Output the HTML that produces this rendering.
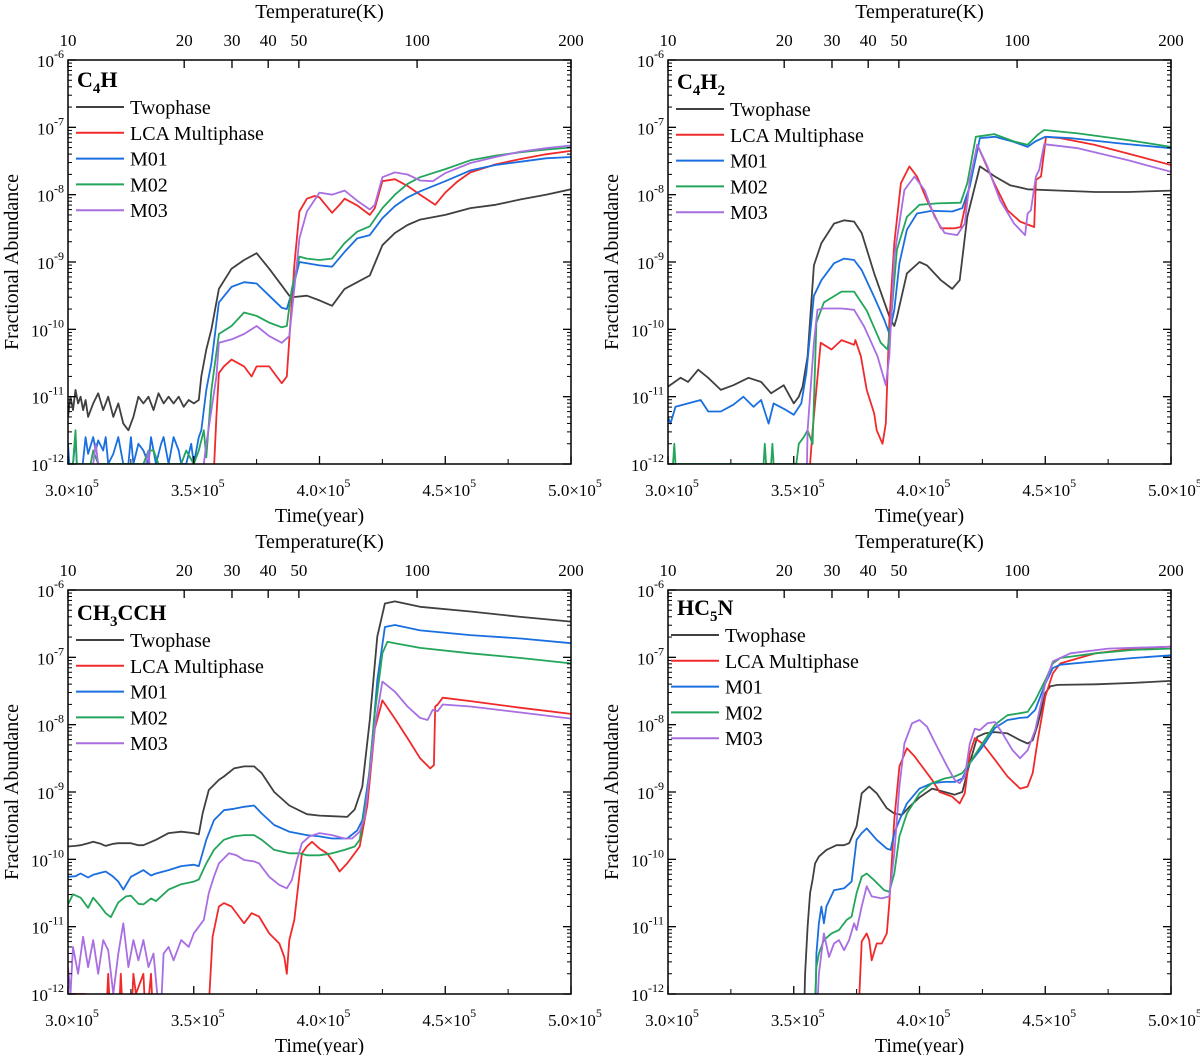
<!DOCTYPE html>
<html><head><meta charset="utf-8"><style>
html,body{margin:0;padding:0;background:#fff;}
svg{display:block;font-family:"Liberation Serif",serif;}
</style></head><body>
<svg id="fig" width="1200" height="1055" viewBox="0 0 1200 1055" xmlns="http://www.w3.org/2000/svg"></svg>
<script>
// ---- data: [time (1e5 yr), log10 abundance] ----
const c4h_twophase=[[3.0,-11.3],[3.01,-11.0],[3.02,-11.2],[3.03,-10.9],[3.04,-11.1],[3.05,-11.0],[3.06,-11.2],[3.07,-11.05],[3.08,-11.3],[3.1,-11.1],[3.12,-10.95],[3.14,-11.2],[3.16,-11.0],[3.18,-11.3],[3.2,-11.1],[3.22,-11.4],[3.24,-11.5],[3.26,-11.3],[3.28,-11.0],[3.3,-11.1],[3.32,-11.0],[3.34,-11.2],[3.36,-10.95],[3.38,-11.1],[3.4,-11.0],[3.42,-11.1],[3.44,-11.0],[3.46,-11.15],[3.48,-11.05],[3.5,-11.1],[3.52,-11.05],[3.53,-10.7],[3.55,-10.3],[3.57,-10.0],[3.6,-9.4],[3.65,-9.1],[3.7,-8.97],[3.75,-8.87],[3.8,-9.1],[3.85,-9.35],[3.88,-9.5],[3.9,-9.52],[3.95,-9.5],[4.0,-9.57],[4.05,-9.65],[4.1,-9.4],[4.15,-9.3],[4.2,-9.2],[4.25,-8.75],[4.3,-8.57],[4.35,-8.45],[4.4,-8.37],[4.5,-8.3],[4.6,-8.2],[4.7,-8.15],[4.8,-8.07],[4.9,-8.0],[5.0,-7.92]];
const c4h_lca=[[3.0,-12.5],[3.575,-12.5],[3.59,-11.3],[3.6,-10.65],[3.62,-10.55],[3.65,-10.45],[3.7,-10.55],[3.73,-10.7],[3.75,-10.55],[3.8,-10.55],[3.83,-10.7],[3.85,-10.8],[3.87,-10.7],[3.88,-10.15],[3.9,-9.05],[3.92,-8.25],[3.95,-8.06],[3.98,-8.02],[4.0,-8.04],[4.05,-8.27],[4.08,-8.15],[4.1,-8.06],[4.15,-8.16],[4.2,-8.3],[4.22,-8.2],[4.25,-7.8],[4.3,-7.77],[4.35,-7.87],[4.4,-8.0],[4.46,-8.15],[4.5,-7.97],[4.55,-7.8],[4.6,-7.67],[4.7,-7.55],[4.8,-7.47],[4.9,-7.4],[5.0,-7.35]];
const c4h_m01=[[3.0,-11.7],[3.005,-12],[3.02,-12],[3.03,-11.6],[3.035,-12],[3.05,-12.3],[3.07,-11.6],[3.08,-11.85],[3.1,-11.6],[3.11,-11.8],[3.12,-11.65],[3.14,-11.8],[3.15,-11.6],[3.16,-12],[3.18,-11.85],[3.2,-11.6],[3.22,-12],[3.24,-12],[3.25,-11.6],[3.26,-12],[3.28,-11.7],[3.3,-11.8],[3.32,-12],[3.33,-11.6],[3.35,-12],[3.37,-11.7],[3.38,-11.6],[3.4,-12],[3.42,-11.6],[3.44,-11.8],[3.45,-12],[3.47,-12],[3.49,-11.7],[3.5,-12],[3.52,-11.6],[3.53,-11.5],[3.55,-10.9],[3.57,-10.5],[3.6,-9.6],[3.65,-9.37],[3.7,-9.3],[3.75,-9.32],[3.8,-9.5],[3.85,-9.68],[3.87,-9.7],[3.89,-9.45],[3.92,-9.0],[3.95,-9.02],[4.0,-9.05],[4.05,-9.07],[4.1,-8.85],[4.15,-8.65],[4.2,-8.6],[4.25,-8.35],[4.3,-8.17],[4.35,-8.04],[4.4,-7.95],[4.5,-7.8],[4.6,-7.64],[4.7,-7.56],[4.8,-7.51],[4.9,-7.46],[5.0,-7.44]];
const c4h_m02=[[3.0,-12],[3.02,-12],[3.03,-11.5],[3.035,-12],[3.09,-12],[3.1,-11.8],[3.12,-12],[3.3,-12],[3.32,-11.8],[3.34,-11.8],[3.36,-12],[3.45,-12],[3.47,-11.8],[3.5,-12],[3.52,-11.8],[3.54,-11.5],[3.55,-11.9],[3.57,-10.9],[3.6,-10.07],[3.65,-9.95],[3.7,-9.75],[3.75,-9.8],[3.8,-9.9],[3.85,-9.97],[3.87,-9.95],[3.89,-9.4],[3.92,-8.92],[3.95,-8.95],[4.0,-8.97],[4.05,-8.95],[4.1,-8.72],[4.15,-8.55],[4.2,-8.47],[4.25,-8.2],[4.3,-8.0],[4.35,-7.84],[4.4,-7.74],[4.5,-7.62],[4.6,-7.49],[4.7,-7.42],[4.8,-7.37],[4.9,-7.33],[5.0,-7.3]];
const c4h_m03=[[3.0,-12.3],[3.09,-12.3],[3.1,-12],[3.11,-11.7],[3.12,-12],[3.13,-12.3],[3.3,-12.3],[3.31,-12],[3.32,-11.8],[3.33,-12.3],[3.53,-12.3],[3.54,-12],[3.55,-11.7],[3.57,-11.2],[3.59,-10.7],[3.6,-10.2],[3.65,-10.15],[3.7,-10.07],[3.75,-9.95],[3.8,-10.1],[3.85,-10.2],[3.88,-10.1],[3.9,-9.4],[3.92,-8.65],[3.95,-8.25],[4.0,-7.97],[4.05,-8.0],[4.1,-7.94],[4.15,-8.09],[4.2,-8.22],[4.22,-8.15],[4.25,-7.74],[4.3,-7.67],[4.35,-7.7],[4.4,-7.79],[4.45,-7.8],[4.5,-7.68],[4.6,-7.53],[4.7,-7.44],[4.8,-7.36],[4.9,-7.31],[5.0,-7.27]];

const c4h2_twophase=[[3.0,-10.85],[3.05,-10.72],[3.08,-10.78],[3.12,-10.6],[3.16,-10.72],[3.21,-10.9],[3.26,-10.83],[3.32,-10.72],[3.37,-10.78],[3.41,-10.95],[3.46,-10.83],[3.5,-11.1],[3.52,-11.0],[3.535,-10.85],[3.555,-10.4],[3.58,-9.05],[3.61,-8.72],[3.66,-8.43],[3.7,-8.38],[3.74,-8.4],[3.77,-8.57],[3.82,-9.17],[3.885,-9.86],[3.9,-9.95],[3.91,-9.82],[3.95,-9.17],[4.0,-9.0],[4.03,-9.05],[4.085,-9.27],[4.13,-9.4],[4.16,-9.27],[4.19,-8.33],[4.24,-7.58],[4.3,-7.73],[4.36,-7.86],[4.43,-7.92],[4.56,-7.94],[4.7,-7.96],[4.83,-7.96],[5.0,-7.94]];
const c4h2_lca=[[3.0,-12.5],[3.555,-12.5],[3.575,-11.5],[3.607,-10.2],[3.65,-10.3],[3.69,-10.16],[3.74,-10.23],[3.745,-10.16],[3.767,-10.4],[3.79,-10.9],[3.82,-11.25],[3.83,-11.5],[3.853,-11.7],[3.866,-11.4],[3.88,-9.9],[3.9,-8.72],[3.926,-7.83],[3.96,-7.58],[3.99,-7.73],[4.03,-8.08],[4.085,-8.5],[4.14,-8.5],[4.164,-8.48],[4.19,-8.03],[4.23,-7.26],[4.297,-7.83],[4.35,-8.23],[4.4,-8.4],[4.456,-8.48],[4.463,-7.78],[4.483,-7.73],[4.503,-7.14],[4.56,-7.16],[4.695,-7.26],[4.83,-7.39],[5.0,-7.56]];
const c4h2_m01=[[3.0,-11.3],[3.01,-11.4],[3.03,-11.15],[3.08,-11.1],[3.13,-11.05],[3.16,-11.22],[3.21,-11.22],[3.26,-11.12],[3.3,-11.0],[3.34,-11.15],[3.37,-11.05],[3.4,-11.4],[3.42,-11.1],[3.47,-11.2],[3.5,-11.27],[3.53,-11.1],[3.55,-10.65],[3.58,-9.5],[3.61,-9.27],[3.66,-9.02],[3.7,-8.95],[3.74,-8.97],[3.77,-9.12],[3.82,-9.52],[3.86,-9.86],[3.88,-10.06],[3.9,-9.71],[3.92,-9.02],[3.95,-8.52],[3.99,-8.28],[4.05,-8.24],[4.13,-8.25],[4.17,-8.2],[4.2,-7.88],[4.24,-7.16],[4.3,-7.14],[4.37,-7.21],[4.43,-7.29],[4.46,-7.21],[4.5,-7.14],[4.6,-7.16],[4.8,-7.24],[5.0,-7.31]];
const c4h2_m02=[[3.0,-12],[3.02,-12],[3.025,-11.7],[3.03,-12],[3.38,-12],[3.385,-11.7],[3.39,-12],[3.41,-12],[3.415,-11.7],[3.42,-12],[3.51,-12],[3.52,-11.7],[3.54,-11.6],[3.555,-11.5],[3.575,-11.7],[3.59,-9.9],[3.62,-9.6],[3.69,-9.44],[3.74,-9.44],[3.79,-9.72],[3.846,-10.2],[3.873,-10.3],[3.886,-9.9],[3.91,-8.82],[3.95,-8.33],[4.0,-8.15],[4.07,-8.13],[4.164,-8.12],[4.19,-7.83],[4.224,-7.14],[4.297,-7.1],[4.376,-7.21],[4.43,-7.26],[4.47,-7.11],[4.496,-7.04],[4.63,-7.09],[4.83,-7.19],[5.0,-7.29]];
const c4h2_m03=[[3.0,-12.5],[3.55,-12.5],[3.555,-11.5],[3.58,-10.2],[3.594,-9.71],[3.62,-9.69],[3.69,-9.69],[3.74,-9.71],[3.78,-9.96],[3.833,-10.4],[3.866,-10.83],[3.88,-10.4],[3.9,-8.92],[3.94,-7.93],[3.98,-7.73],[4.02,-7.93],[4.06,-8.33],[4.1,-8.57],[4.15,-8.6],[4.18,-8.43],[4.2,-7.78],[4.23,-7.26],[4.27,-7.58],[4.32,-8.08],[4.376,-8.43],[4.42,-8.6],[4.43,-8.28],[4.443,-8.23],[4.463,-7.73],[4.476,-7.63],[4.496,-7.25],[4.63,-7.31],[4.83,-7.49],[5.0,-7.66]];

const ch3cch_twophase=[[3.0,-9.81],[3.03,-9.8],[3.05,-9.79],[3.08,-9.76],[3.1,-9.74],[3.13,-9.77],[3.15,-9.8],[3.18,-9.77],[3.2,-9.76],[3.25,-9.76],[3.28,-9.79],[3.3,-9.79],[3.35,-9.71],[3.4,-9.61],[3.45,-9.59],[3.5,-9.61],[3.52,-9.63],[3.535,-9.32],[3.56,-8.97],[3.6,-8.82],[3.62,-8.77],[3.66,-8.65],[3.7,-8.62],[3.74,-8.62],[3.77,-8.72],[3.82,-9.0],[3.88,-9.2],[3.95,-9.33],[4.0,-9.35],[4.05,-9.36],[4.11,-9.37],[4.14,-9.26],[4.17,-8.92],[4.2,-7.93],[4.23,-6.69],[4.26,-6.2],[4.3,-6.17],[4.4,-6.25],[4.6,-6.32],[4.8,-6.4],[5.0,-6.47]];
const ch3cch_lca=[[3.0,-12.5],[3.005,-12],[3.07,-12],[3.09,-12.5],[3.15,-12.5],[3.16,-11.7],[3.17,-12.5],[3.2,-12.5],[3.21,-11.7],[3.22,-12.5],[3.25,-12.5],[3.26,-11.7],[3.27,-12],[3.3,-11.7],[3.31,-12.5],[3.33,-11.7],[3.34,-12.5],[3.555,-12.5],[3.575,-11.15],[3.6,-10.7],[3.62,-10.65],[3.65,-10.7],[3.68,-10.85],[3.7,-10.95],[3.73,-10.8],[3.76,-10.85],[3.8,-11.1],[3.84,-11.25],[3.86,-11.45],[3.87,-11.7],[3.88,-11.2],[3.9,-10.9],[3.93,-9.91],[3.95,-9.81],[3.97,-9.74],[4.0,-9.84],[4.03,-9.91],[4.06,-10.06],[4.08,-10.18],[4.11,-10.06],[4.14,-9.91],[4.16,-9.81],[4.19,-9.2],[4.22,-8.06],[4.25,-7.64],[4.3,-7.91],[4.35,-8.2],[4.4,-8.5],[4.44,-8.65],[4.455,-8.6],[4.46,-7.73],[4.47,-7.7],[4.49,-7.6],[4.6,-7.65],[4.8,-7.75],[5.0,-7.84]];
const ch3cch_m01=[[3.0,-10.26],[3.03,-10.25],[3.05,-10.21],[3.08,-10.27],[3.1,-10.23],[3.13,-10.2],[3.15,-10.18],[3.18,-10.26],[3.2,-10.33],[3.22,-10.45],[3.25,-10.26],[3.28,-10.2],[3.3,-10.16],[3.33,-10.24],[3.35,-10.21],[3.4,-10.16],[3.45,-10.1],[3.5,-10.08],[3.52,-10.1],[3.55,-9.71],[3.58,-9.42],[3.62,-9.27],[3.66,-9.25],[3.7,-9.22],[3.74,-9.2],[3.77,-9.32],[3.82,-9.49],[3.88,-9.59],[3.95,-9.64],[4.0,-9.66],[4.05,-9.69],[4.11,-9.69],[4.15,-9.57],[4.17,-9.42],[4.2,-8.67],[4.23,-7.34],[4.26,-6.55],[4.3,-6.52],[4.4,-6.6],[4.6,-6.67],[4.8,-6.72],[5.0,-6.79]];
const ch3cch_m02=[[3.0,-10.67],[3.02,-10.52],[3.05,-10.57],[3.08,-10.72],[3.1,-10.57],[3.13,-10.7],[3.15,-10.8],[3.17,-10.86],[3.2,-10.64],[3.23,-10.55],[3.25,-10.54],[3.28,-10.66],[3.3,-10.67],[3.33,-10.58],[3.35,-10.62],[3.4,-10.45],[3.45,-10.37],[3.5,-10.33],[3.52,-10.3],[3.55,-10.06],[3.58,-9.86],[3.62,-9.71],[3.66,-9.66],[3.7,-9.64],[3.74,-9.64],[3.77,-9.71],[3.82,-9.86],[3.88,-9.91],[3.92,-9.91],[3.95,-9.94],[4.0,-9.94],[4.05,-9.91],[4.1,-9.86],[4.14,-9.81],[4.16,-9.71],[4.19,-9.02],[4.22,-7.83],[4.25,-6.94],[4.27,-6.77],[4.3,-6.79],[4.4,-6.86],[4.6,-6.94],[4.8,-7.01],[5.0,-7.09]];
const ch3cch_m03=[[3.0,-11.6],[3.01,-12],[3.02,-11.3],[3.04,-11.7],[3.06,-11.15],[3.08,-11.6],[3.1,-11.2],[3.12,-11.7],[3.14,-11.2],[3.16,-11.35],[3.18,-12],[3.2,-11.4],[3.22,-10.95],[3.24,-11.6],[3.26,-11.2],[3.28,-11.5],[3.3,-11.2],[3.32,-11.6],[3.34,-11.4],[3.36,-12.2],[3.37,-12.2],[3.38,-11.4],[3.4,-11.3],[3.42,-11.5],[3.45,-11.2],[3.48,-11.3],[3.5,-11.1],[3.52,-11.0],[3.54,-10.9],[3.56,-10.5],[3.58,-10.26],[3.6,-10.06],[3.64,-9.91],[3.67,-9.94],[3.7,-10.01],[3.74,-10.03],[3.76,-10.06],[3.8,-10.26],[3.84,-10.38],[3.87,-10.43],[3.89,-10.31],[3.91,-10.01],[3.93,-9.76],[3.96,-9.66],[4.0,-9.61],[4.05,-9.64],[4.1,-9.69],[4.13,-9.69],[4.16,-9.59],[4.18,-9.37],[4.2,-8.72],[4.22,-8.03],[4.25,-7.36],[4.3,-7.51],[4.35,-7.73],[4.4,-7.9],[4.43,-7.93],[4.45,-7.78],[4.47,-7.8],[4.49,-7.7],[4.6,-7.73],[4.8,-7.82],[5.0,-7.91]];

const hc5n_twophase=[[3.0,-12.5],[3.54,-12.5],[3.545,-11.7],[3.555,-11.0],[3.565,-10.5],[3.575,-10.3],[3.585,-10.06],[3.6,-9.96],[3.63,-9.86],[3.67,-9.79],[3.7,-9.79],[3.72,-9.76],[3.75,-9.51],[3.77,-9.02],[3.8,-8.92],[3.83,-9.02],[3.87,-9.24],[3.9,-9.32],[3.93,-9.34],[3.96,-9.22],[4.0,-9.08],[4.05,-8.95],[4.1,-9.0],[4.14,-9.04],[4.17,-9.0],[4.2,-8.57],[4.23,-8.18],[4.26,-8.13],[4.3,-8.11],[4.35,-8.13],[4.4,-8.23],[4.43,-8.28],[4.45,-8.23],[4.47,-8.0],[4.5,-7.53],[4.52,-7.43],[4.55,-7.41],[4.7,-7.4],[4.85,-7.38],[5.0,-7.35]];
const hc5n_lca=[[3.0,-12.5],[3.755,-12.5],[3.77,-11.22],[3.79,-11.1],[3.8,-11.2],[3.81,-11.5],[3.83,-11.25],[3.85,-11.25],[3.87,-11.1],[3.88,-10.65],[3.9,-9.41],[3.92,-8.62],[3.95,-8.35],[3.98,-8.47],[4.0,-8.57],[4.05,-8.82],[4.08,-9.0],[4.13,-9.07],[4.16,-9.17],[4.18,-9.02],[4.2,-8.43],[4.22,-8.2],[4.25,-8.28],[4.3,-8.52],[4.35,-8.77],[4.4,-8.95],[4.43,-8.92],[4.45,-8.72],[4.47,-8.23],[4.5,-7.58],[4.53,-7.24],[4.56,-7.09],[4.7,-6.94],[4.85,-6.87],[5.0,-6.84]];
const hc5n_m01=[[3.0,-12.5],[3.585,-12.5],[3.59,-11.4],[3.6,-10.95],[3.61,-10.7],[3.62,-10.95],[3.63,-10.7],[3.66,-10.46],[3.7,-10.43],[3.73,-10.33],[3.75,-9.71],[3.77,-9.61],[3.79,-9.54],[3.83,-9.71],[3.87,-9.84],[3.885,-9.86],[3.9,-9.61],[3.92,-9.42],[3.95,-9.17],[4.0,-8.95],[4.05,-8.87],[4.1,-8.85],[4.14,-8.85],[4.17,-8.8],[4.2,-8.57],[4.25,-8.33],[4.3,-8.05],[4.35,-7.93],[4.4,-7.9],[4.43,-7.89],[4.46,-7.78],[4.5,-7.39],[4.53,-7.16],[4.56,-7.11],[4.7,-7.06],[4.85,-7.01],[5.0,-6.97]];
const hc5n_m02=[[3.0,-12.5],[3.58,-12.5],[3.59,-11.6],[3.6,-11.4],[3.62,-11.2],[3.65,-11.1],[3.68,-11.05],[3.71,-10.9],[3.73,-10.85],[3.75,-10.5],[3.77,-10.26],[3.79,-10.21],[3.82,-10.31],[3.86,-10.46],[3.88,-10.48],[3.9,-10.21],[3.92,-9.66],[3.95,-9.32],[4.0,-9.02],[4.05,-8.87],[4.1,-8.8],[4.14,-8.77],[4.17,-8.72],[4.2,-8.57],[4.25,-8.28],[4.3,-8.0],[4.35,-7.86],[4.4,-7.83],[4.43,-7.81],[4.46,-7.64],[4.5,-7.34],[4.53,-7.09],[4.56,-7.01],[4.7,-6.94],[4.85,-6.89],[5.0,-6.87]];
const hc5n_m03=[[3.0,-12.5],[3.59,-12.5],[3.6,-11.7],[3.62,-11.1],[3.64,-11.45],[3.66,-11.25],[3.68,-11.2],[3.7,-11.35],[3.72,-11.2],[3.74,-10.95],[3.75,-11.05],[3.77,-10.7],[3.79,-10.4],[3.81,-10.55],[3.85,-10.58],[3.88,-10.55],[3.9,-9.91],[3.92,-8.92],[3.94,-8.28],[3.97,-7.98],[4.0,-7.93],[4.03,-8.03],[4.07,-8.33],[4.11,-8.62],[4.14,-8.82],[4.16,-8.87],[4.18,-8.77],[4.2,-8.28],[4.22,-8.06],[4.24,-8.08],[4.27,-7.98],[4.3,-7.96],[4.33,-8.13],[4.37,-8.38],[4.4,-8.5],[4.43,-8.38],[4.46,-8.08],[4.5,-7.39],[4.53,-7.06],[4.6,-6.94],[4.75,-6.87],[5.0,-6.84]];

const seriesNames=["Twophase","LCA Multiphase","M01","M02","M03"];
const seriesColors=["#404040","#f02a2a","#1a6fe0","#23a55a","#a86ee2"];
const timeTicks=[3.0,3.5,4.0,4.5,5.0];
const timeTickLabels=["3.0","3.5","4.0","4.5","5.0"];
const decadeTicks=[-6,-7,-8,-9,-10,-11,-12];
const tempTickLabels=["10","20","30","40","50","100","200"];
const tempTickFrac=[0,0.231,0.326,0.398,0.459,0.694,1];

const NS="http://www.w3.org/2000/svg";
const svg=document.getElementById('fig');
function mk(tag,attrs,parent){const e=document.createElementNS(NS,tag);for(const k in attrs)e.setAttribute(k,attrs[k]);(parent||svg).appendChild(e);return e;}

const panels=[
 {key:'c4h',x0:68,y0:60,title:['C','4','H',''],data:[c4h_twophase,c4h_lca,c4h_m01,c4h_m02,c4h_m03],legY:107,legX:76},
 {key:'c4h2',x0:668,y0:60,title:['C','4','H','2'],data:[c4h2_twophase,c4h2_lca,c4h2_m01,c4h2_m02,c4h2_m03],legY:109,legX:676},
 {key:'ch3cch',x0:68,y0:590,title:['CH','3','CCH',''],data:[ch3cch_twophase,ch3cch_lca,ch3cch_m01,ch3cch_m02,ch3cch_m03],legY:640,legX:76},
 {key:'hc5n',x0:668,y0:590,title:['HC','5','N',''],data:[hc5n_twophase,hc5n_lca,hc5n_m01,hc5n_m02,hc5n_m03],legY:635,legX:671}
];
const W=503,H=404;

panels.forEach((p,pi)=>{
 const g=mk('g',{});
 
 
 const xs=t=>p.x0+(t-3)/2*W;
 const ys=v=>p.y0+(-6-v)/6*H;
 const cp=mk('clipPath',{id:'clip'+pi},g);
 mk('rect',{x:p.x0,y:p.y0,width:W,height:H},cp);
 const sg=mk('g',{'clip-path':'url(#clip'+pi+')'},g);
 p.data.forEach((arr,si)=>{
  const d=arr.map((pt,i)=>(i?'L':'M')+xs(pt[0]).toFixed(1)+','+ys(pt[1]).toFixed(1)).join('');
  const path=mk('path',{d:d,fill:'none',stroke:seriesColors[si],'stroke-width':1.8,'stroke-linejoin':'round'},sg);
  
  
 });
 const fr=mk('rect',{x:p.x0,y:p.y0,width:W,height:H,fill:'none',stroke:'#000','stroke-width':1.5},g);
 
 
 const yax=mk('g',{},g);
 
 
 decadeTicks.forEach(dv=>{
  const y=ys(dv);
  mk('line',{x1:p.x0,x2:p.x0+8,y1:y,y2:y,stroke:'#000','stroke-width':1.3},yax);
  mk('line',{x1:p.x0+W,x2:p.x0+W-8,y1:y,y2:y,stroke:'#000','stroke-width':1.3},yax);
  if(dv>-12){for(let m=2;m<10;m++){const yy=ys(dv-1+Math.log10(m));
   mk('line',{x1:p.x0,x2:p.x0+4,y1:yy,y2:yy,stroke:'#000','stroke-width':1},yax);
   mk('line',{x1:p.x0+W,x2:p.x0+W-4,y1:yy,y2:yy,stroke:'#000','stroke-width':1},yax);}}
  const t=mk('text',{x:p.x0-4,y:y+7,'text-anchor':'end','font-size':17},yax);
  
  
  t.appendChild(document.createTextNode('10'));
  const s=mk('tspan',{dy:-9,'font-size':12},t);s.textContent=String(dv);
 });
 const yl=mk('text',{x:0,y:0,transform:'translate('+(p.x0-50)+','+(p.y0+H/2)+') rotate(-90)','text-anchor':'middle','font-size':20},g);
 
 
 yl.textContent='Fractional Abundance';
 const xax=mk('g',{},g);
 
 
 timeTicks.forEach((tv,i)=>{
  const x=xs(tv);
  mk('line',{x1:x,x2:x,y1:p.y0+H,y2:p.y0+H-8,stroke:'#000','stroke-width':1.3},xax);
  if(i<timeTicks.length-1){const xm=xs(tv+0.25);mk('line',{x1:xm,x2:xm,y1:p.y0+H,y2:p.y0+H-5,stroke:'#000','stroke-width':1},xax);}
  const t=mk('text',{x:x+4,y:p.y0+H+32,'text-anchor':'middle','font-size':17},xax);
  
  
  t.appendChild(document.createTextNode(timeTickLabels[i]+'\u00d710'));
  const s=mk('tspan',{dy:-9,'font-size':12},t);s.textContent='5';
 });
 const xl=mk('text',{x:p.x0+W/2,y:p.y0+H+58,'text-anchor':'middle','font-size':20},g);
 
 
 xl.textContent='Time(year)';
 const tax=mk('g',{},g);
 
 
 tempTickFrac.forEach((f,i)=>{
  const x=p.x0+f*W;
  mk('line',{x1:x,x2:x,y1:p.y0,y2:p.y0+8,stroke:'#000','stroke-width':1.3},tax);
  const t=mk('text',{x:x,y:p.y0-14,'text-anchor':'middle','font-size':17},tax);
  
  
  t.textContent=tempTickLabels[i];
 });
 const tl=mk('text',{x:p.x0+W/2,y:p.y0-42,'text-anchor':'middle','font-size':20},g);
 
 
 tl.textContent='Temperature(K)';
 const tt=mk('text',{x:p.x0+9,y:p.legY-20,'font-size':22,'font-weight':'bold'},g);
 
 
 tt.appendChild(document.createTextNode(p.title[0]));
 const s1=mk('tspan',{dy:6,'font-size':15},tt);s1.textContent=p.title[1];
 const s2=mk('tspan',{dy:-6},tt);s2.textContent=p.title[2];
 if(p.title[3]){const s3=mk('tspan',{dy:6,'font-size':15},tt);s3.textContent=p.title[3];}
 const lg=mk('g',{},g);
 
 
 seriesNames.forEach((n,i)=>{
  const y=p.legY+i*25.8;
  const eg=mk('g',{},lg);
  
  
  mk('line',{x1:p.legX,x2:p.legX+48,y1:y,y2:y,stroke:seriesColors[i],'stroke-width':2},eg);
  const t=mk('text',{x:p.legX+54,y:y+7,'font-size':20},eg);
  t.textContent=n;
 });
});
</script>
</body></html>
